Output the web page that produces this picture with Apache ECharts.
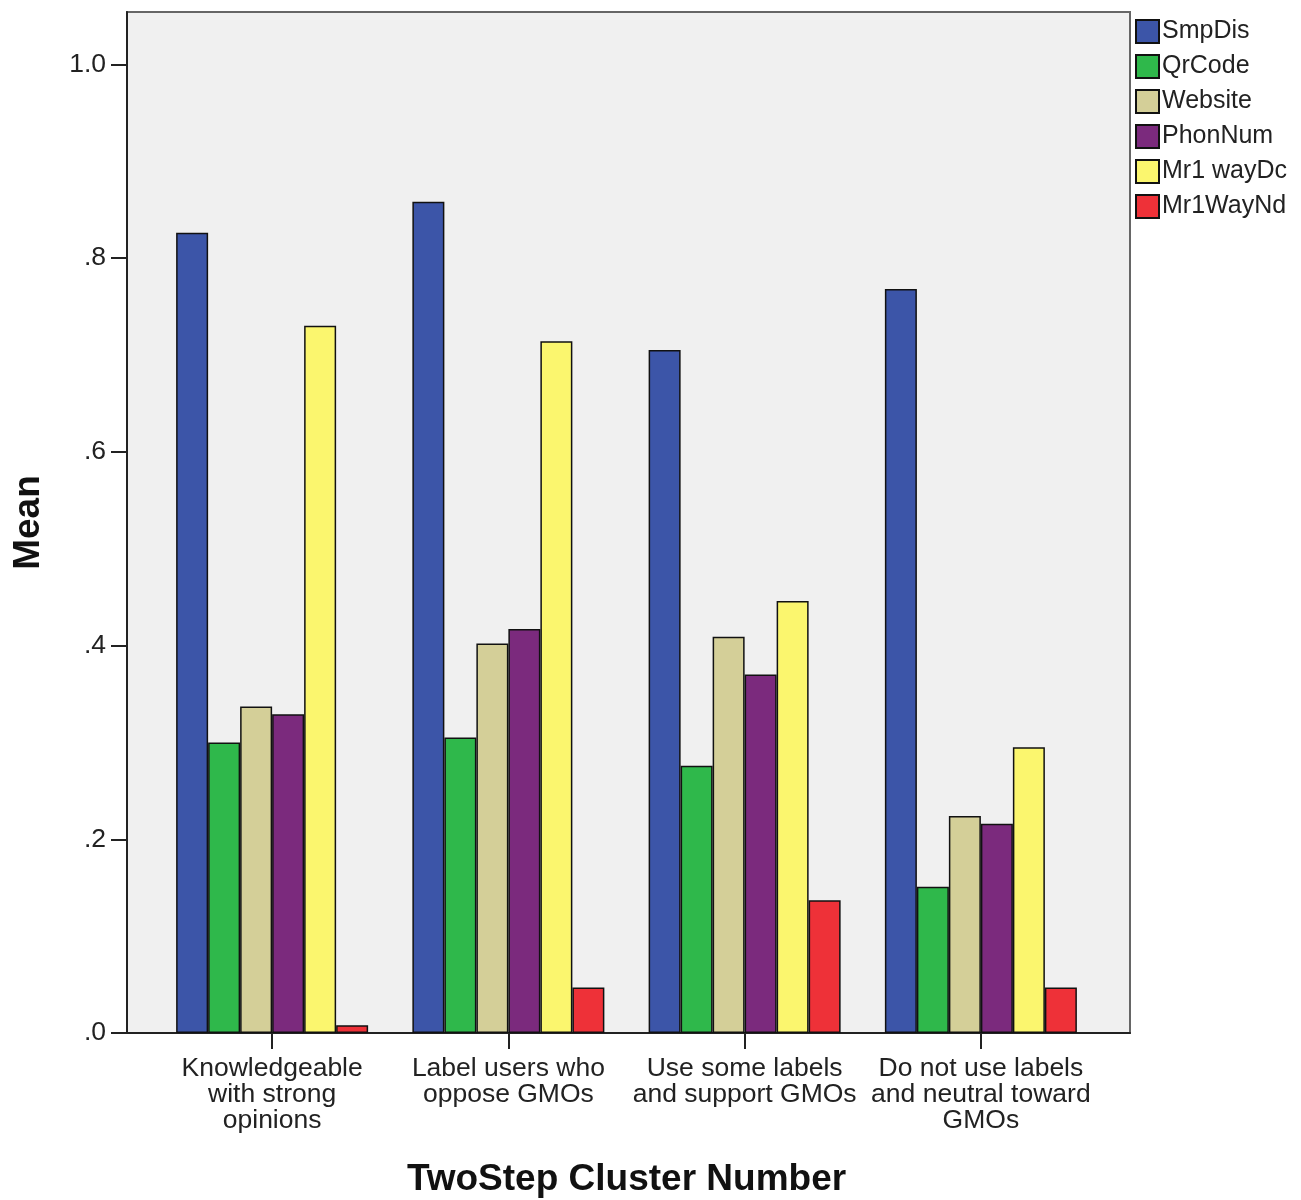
<!DOCTYPE html>
<html>
<head>
<meta charset="utf-8">
<script src="https://cdn.jsdelivr.net/npm/echarts@6/dist/echarts.min.js"></script>
<style>html,body{margin:0;padding:0;background:#fff;}#chart{width:1301px;height:1200px;}</style>
</head>
<body>
<div id="chart"></div>
<script>
var categories = ["Knowledgeable\nwith strong\nopinions", "Label users who\noppose GMOs", "Use some labels\nand support GMOs", "Do not use labels\nand neutral toward\nGMOs"];
var seriesNames = ["SmpDis", "QrCode", "Website", "PhonNum", "Mr1 wayDc", "Mr1WayNd"];
var SmpDis = [0.826, 0.858, 0.705, 0.768];
var QrCode = [0.300, 0.305, 0.276, 0.151];
var Website = [0.337, 0.402, 0.409, 0.224];
var PhonNum = [0.329, 0.417, 0.370, 0.216];
var Mr1wayDc = [0.730, 0.714, 0.446, 0.295];
var Mr1WayNd = [0.008, 0.047, 0.137, 0.047];
var yTickValues = [0, 0.2, 0.4, 0.6, 0.8, 1.0];
var yTickLabels = [".0", ".2", ".4", ".6", ".8", "1.0"];
var colors = ["#3c55a8", "#2fb84b", "#d4cf98", "#7b2a7d", "#fbf66e", "#ee3138"];
var values = [SmpDis, QrCode, Website, PhonNum, Mr1wayDc, Mr1WayNd];

var font = "Liberation Sans, Arial, sans-serif";
var chart = echarts.init(document.getElementById('chart'));
var series = seriesNames.map(function (n, i) {
  return {
    name: n, type: 'bar', xAxisIndex: 1, yAxisIndex: 1,
    data: values[i], barWidth: 32, barGap: '0%',
    itemStyle: { color: colors[i], borderColor: '#111', borderWidth: 1.5 }
  };
});
chart.setOption({
  animation: false,
  backgroundColor: '#fff',
  textStyle: { fontFamily: font },
  grid: [
    { left: 127, top: 12, width: 1003, height: 1021, show: true, backgroundColor: '#f0f0f0', borderColor: '#666', borderWidth: 2, containLabel: false, outerBoundsMode: 'none' },
    { left: 154, top: 12, width: 945, height: 1021, containLabel: false, outerBoundsMode: 'none' }
  ],
  legend: {
    orient: 'vertical', left: 1135, top: 19, padding: 0,
    itemWidth: 23, itemHeight: 23, itemGap: 10,
    icon: 'rect',
    textStyle: { fontSize: 25, color: '#222', fontFamily: font, padding: [0, 0, 0, -2] },
    data: seriesNames
  },
  xAxis: [
    { type: 'value', gridIndex: 0, min: 0, max: 1, show: true,
      axisLine: { show: true, lineStyle: { color: '#222', width: 2 } },
      axisTick: { show: false }, axisLabel: { show: false }, splitLine: { show: false } },
    { type: 'category', gridIndex: 1, data: categories,
      axisLine: { show: false },
      axisTick: { show: true, alignWithLabel: true, length: 16, lineStyle: { color: '#222', width: 2 } },
      axisLabel: { fontSize: 26.5, color: '#222', lineHeight: 26, margin: 23, interval: 0, fontFamily: font },
      name: 'TwoStep Cluster Number', nameLocation: 'middle', nameGap: 128,
      nameTextStyle: { fontSize: 37, fontWeight: 'bold', color: '#111', fontFamily: font } }
  ],
  yAxis: [
    { type: 'value', gridIndex: 0, min: 0, max: 1.054,
      axisLine: { show: true, lineStyle: { color: '#222', width: 2 } },
      axisTick: { show: true, length: 16, customValues: yTickValues, lineStyle: { color: '#222', width: 2 } },
      axisLabel: { fontSize: 26.5, color: '#222', margin: 21, fontFamily: font, customValues: yTickValues,
        formatter: function (v) { var i = yTickValues.findIndex(function (t) { return Math.abs(t - v) < 1e-6; }); return i >= 0 ? yTickLabels[i] : ''; } },
      splitLine: { show: false },
      name: 'Mean', nameLocation: 'middle', nameGap: 80,
      nameTextStyle: { fontSize: 37, fontWeight: 'bold', color: '#111', fontFamily: font } },
    { type: 'value', gridIndex: 1, min: 0, max: 1.054, show: false, splitLine: { show: false } }
  ],
  series: series
});
</script>
</body>
</html>
